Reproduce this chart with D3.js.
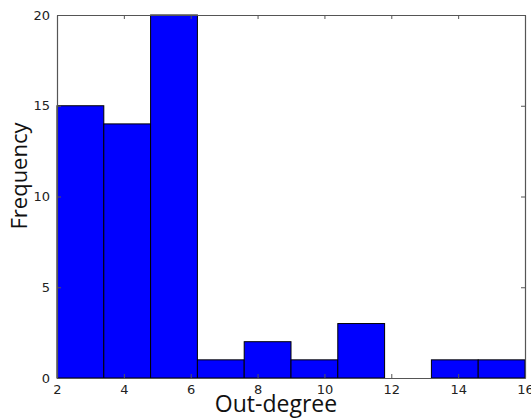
<!DOCTYPE html>
<html>
<head>
<meta charset="utf-8">
<script src="https://cdn.jsdelivr.net/npm/d3@7"></script>
<style>
  body { margin: 0; background: #fff; }
  text { font-family: "DejaVu Sans", sans-serif; }
</style>
</head>
<body>
<script>
// histogram bins (edges) and counts
var binEdges = [2, 3.4, 4.8, 6.2, 7.6, 9, 10.4, 11.8, 13.2, 14.6, 16];
var counts = [15, 14, 20, 1, 2, 1, 3, 0, 1, 1];
var xTicks = [2, 4, 6, 8, 10, 12, 14, 16];
var yTicks = [0, 5, 10, 15, 20];

var width = 531, height = 420;
var margin = {top: 15, right: 6, bottom: 42, left: 57};
var w = width - margin.left - margin.right;
var h = height - margin.top - margin.bottom;

var svg = d3.select("body").append("svg")
  .attr("width", width)
  .attr("height", height);

var g = svg.append("g")
  .attr("transform", "translate(" + margin.left + "," + margin.top + ")");

var xScale = d3.scaleLinear().domain([2, 16]).range([0, w]);
var yScale = d3.scaleLinear().domain([0, 20]).range([h, 0]);

var bins = counts.map(function(c, i) {
  return {x0: binEdges[i], x1: binEdges[i + 1], n: c};
});

// bars
g.selectAll("rect.bar")
  .data(bins.filter(function(d) { return d.n > 0; }))
  .enter()
  .append("rect")
  .attr("class", "bar")
  .attr("x", function(d) { return xScale(d.x0); })
  .attr("y", function(d) { return yScale(d.n); })
  .attr("width", function(d) { return xScale(d.x1) - xScale(d.x0); })
  .attr("height", function(d) { return yScale(0) - yScale(d.n); })
  .attr("fill", "#0000ff")
  .attr("stroke", "#000")
  .attr("stroke-width", 1);

// axes, ticks pointing inwards
var bottomAxis = d3.axisBottom(xScale).tickValues(xTicks).tickSizeInner(-4).tickSizeOuter(0).tickPadding(7);
var topAxis = d3.axisTop(xScale).tickValues(xTicks).tickSizeInner(-4).tickSizeOuter(0).tickFormat("");
var leftAxis = d3.axisLeft(yScale).tickValues(yTicks).tickSizeInner(-4).tickSizeOuter(0).tickPadding(7);
var rightAxis = d3.axisRight(yScale).tickValues(yTicks).tickSizeInner(-4).tickSizeOuter(0).tickFormat("");

var axes = [
  g.append("g").attr("transform", "translate(0," + h + ")").call(bottomAxis),
  g.append("g").call(topAxis),
  g.append("g").call(leftAxis),
  g.append("g").attr("transform", "translate(" + w + ",0)").call(rightAxis)
];
axes.forEach(function(a) {
  a.select(".domain").attr("stroke", "#555").attr("stroke-width", 1.2);
  a.selectAll("line").attr("stroke", "#555");
  a.selectAll("text").attr("font-size", "13px").attr("fill", "#222")
    .style("font-family", "DejaVu Sans, sans-serif");
});

// axis labels
svg.append("text")
  .attr("x", 276)
  .attr("y", 412)
  .attr("text-anchor", "middle")
  .attr("font-size", "23px")
  .attr("fill", "#111")
  .style("font-family", "'Open Sans', sans-serif")
  .text("Out-degree");

svg.append("text")
  .attr("transform", "rotate(-90)")
  .attr("x", -176)
  .attr("y", 27)
  .attr("text-anchor", "middle")
  .attr("font-size", "22px")
  .attr("fill", "#111")
  .style("font-family", "'Open Sans', sans-serif")
  .text("Frequency");
</script>
</body>
</html>
